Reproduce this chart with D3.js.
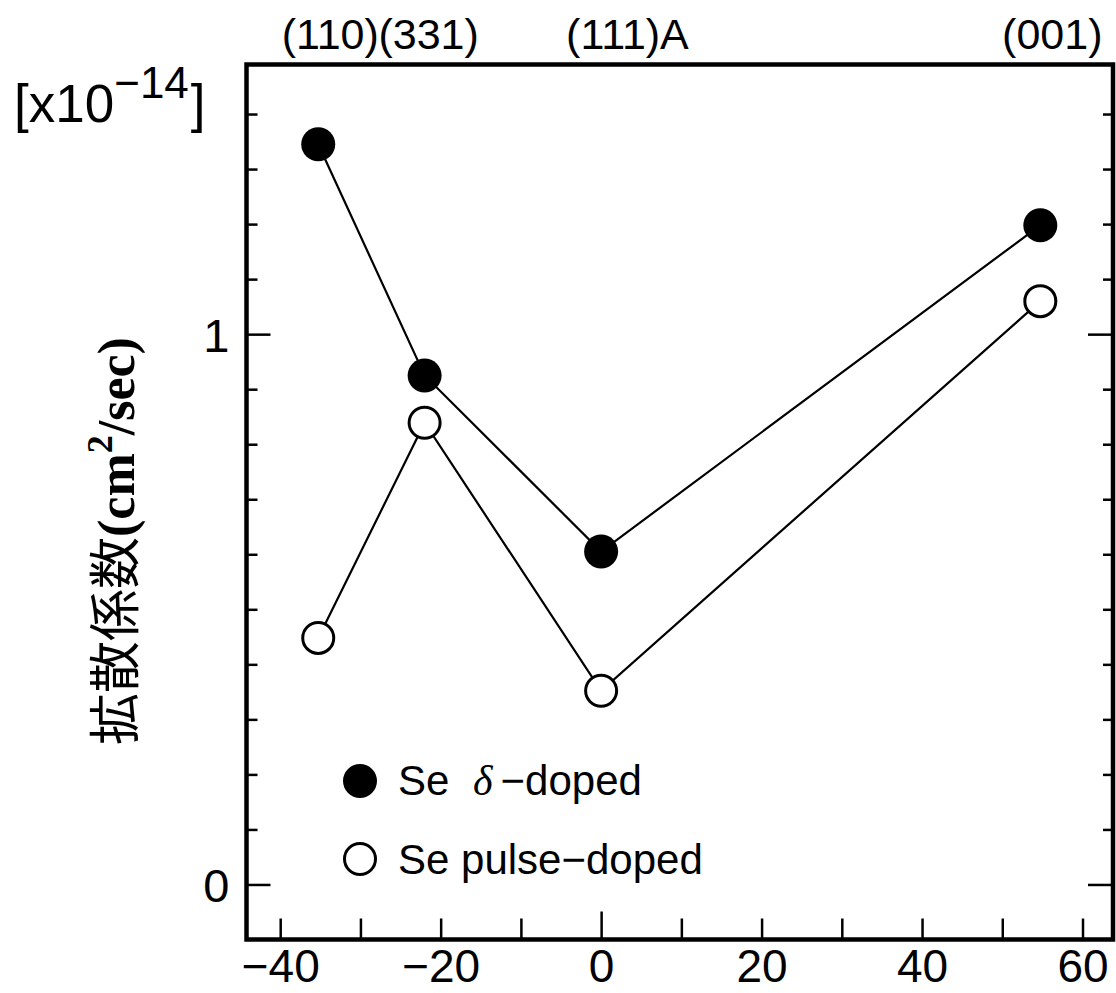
<!DOCTYPE html>
<html>
<head>
<meta charset="utf-8">
<script src="https://cdn.jsdelivr.net/npm/d3@7"></script>
<style>
  html, body { margin: 0; padding: 0; background: #fff; }
  svg { display: block; }
  text { fill: #000; }
</style>
</head>
<body>
<svg id="chart" width="1116" height="993"></svg>
<script>
// Surface orientations and their tilt angle from (111) in degrees
const planes = ["(110)", "(331)", "(111)A", "(001)"];
const angles = [-35.26, -22.0, 0, 54.74];

// Diffusion coefficient, in units of 1e-14 cm^2/sec
const deltaDoped = [1.345, 0.925, 0.605, 1.198];
const pulseDoped = [0.448, 0.839, 0.352, 1.060];

// Axis ticks
const xTicks = [-40, -30, -20, -10, 0, 10, 20, 30, 40, 50, 60];
const xLabelTicks = [-40, -20, 0, 20, 40, 60];
const yTicks = [0, 0.1, 0.2, 0.3, 0.4, 0.5, 0.6, 0.7, 0.8, 0.9, 1.0, 1.1, 1.2, 1.3, 1.4];
const yLabelTicks = [0, 1];

const legendLabels = ["Se δ −doped", "Se pulse−doped"];

const svg = d3.select("#chart");
const sans = "'Liberation Sans', Arial, Helvetica, sans-serif";

const plotL = 246.5, plotR = 1113, plotT = 64.5, plotB = 939.5;
const x = d3.scaleLinear().domain([-44.2, 63.8]).range([plotL, plotR]);
const y = d3.scaleLinear().domain([-0.1, 1.49]).range([plotB, plotT]);

svg.append("rect").attr("width", 1116).attr("height", 993).attr("fill", "#fff");

// Inward ticks on the left and right edges
function tickStyle(g) {
  g.select(".domain").remove();
  g.selectAll("line").attr("stroke", "#000").attr("stroke-width", 2.5);
  g.selectAll("text").attr("font-family", sans).attr("font-size", 47).attr("fill", "#000");
}

svg.append("g").attr("transform", `translate(${plotL},0)`)
  .call(d3.axisLeft(y).tickValues(yTicks.filter(v => !yLabelTicks.includes(v)))
    .tickSizeInner(-11).tickSizeOuter(0).tickFormat(""))
  .call(tickStyle);
svg.append("g").attr("transform", `translate(${plotL},0)`)
  .call(d3.axisLeft(y).tickValues(yLabelTicks)
    .tickSizeInner(-24).tickSizeOuter(0).tickPadding(17).tickFormat(d3.format("d")))
  .call(tickStyle)
  .call(g => g.selectAll("text").attr("dy", "0.36em"));

svg.append("g").attr("transform", `translate(${plotR},0)`)
  .call(d3.axisRight(y).tickValues(yTicks.filter(v => !yLabelTicks.includes(v)))
    .tickSizeInner(-10).tickSizeOuter(0).tickFormat(""))
  .call(tickStyle);
svg.append("g").attr("transform", `translate(${plotR},0)`)
  .call(d3.axisRight(y).tickValues(yLabelTicks)
    .tickSizeInner(-25).tickSizeOuter(0).tickFormat(""))
  .call(tickStyle);

// Bottom axis: ticks every 10, labels every 20, zero tick a bit longer
svg.append("g").attr("transform", `translate(0,${plotB})`)
  .call(d3.axisBottom(x).tickValues(xTicks)
    .tickSizeInner(-21).tickSizeOuter(0).tickPadding(10)
    .tickFormat(d => xLabelTicks.includes(d) ? (d < 0 ? "\u2212" + Math.abs(d) : String(d)) : ""))
  .call(tickStyle)
  .call(g => g.selectAll("text").attr("font-size", 46))
  .call(g => g.selectAll(".tick").filter(d => d === 0).select("line").attr("y2", -28));

// Frame
svg.append("rect")
  .attr("x", plotL).attr("y", plotT)
  .attr("width", plotR - plotL).attr("height", plotB - plotT)
  .attr("fill", "none").attr("stroke", "#000").attr("stroke-width", 4.5);

// Orientation labels above the frame; (110) and (331) sit close, so the
// second one is nudged left to butt against the first
const topLabels = svg.append("g")
  .attr("font-family", sans).attr("font-size", 43);
planes.forEach((p, i) => {
  const m = p.match(/^(\(\d+\))(.*)$/);
  const t = topLabels.append("text").attr("y", 49).text(m[1]);
  const w = t.node().getComputedTextLength();
  const nudge = p === "(331)" ? 4 : 12;
  t.attr("x", x(angles[i]) + nudge - w / 2);
  if (m[2]) t.append("tspan").text(m[2]);
});

// Series lines
const line = d3.line().x(d => x(d[0])).y(d => y(d[1]));
[deltaDoped, pulseDoped].forEach(vals => {
  svg.append("path")
    .datum(angles.map((a, i) => [a, vals[i]]))
    .attr("d", line)
    .attr("fill", "none").attr("stroke", "#000").attr("stroke-width", 2.2);
});

// Markers
svg.append("g").selectAll("circle")
  .data(angles.map((a, i) => [a, pulseDoped[i]]))
  .join("circle")
  .attr("cx", d => x(d[0])).attr("cy", d => y(d[1])).attr("r", 15.5)
  .attr("fill", "#fff").attr("stroke", "#000").attr("stroke-width", 3);
svg.append("g").selectAll("circle")
  .data(angles.map((a, i) => [a, deltaDoped[i]]))
  .join("circle")
  .attr("cx", d => x(d[0])).attr("cy", d => y(d[1])).attr("r", 17)
  .attr("fill", "#000");

// Legend
const legend = svg.append("g");
legend.append("circle").attr("cx", 360).attr("cy", 781).attr("r", 17).attr("fill", "#000");
legend.append("circle").attr("cx", 360).attr("cy", 859).attr("r", 15.5)
  .attr("fill", "#fff").attr("stroke", "#000").attr("stroke-width", 3);
const l1 = legend.append("text").attr("x", 398).attr("y", 795)
  .attr("font-family", sans).attr("font-size", 42);
l1.append("tspan").text("Se ");
l1.append("tspan").attr("font-family", "'Liberation Serif', 'DejaVu Serif', serif")
  .attr("font-style", "italic").attr("dx", 12).text("δ");
l1.append("tspan").attr("dx", 8).text("\u2212doped");
legend.append("text").attr("x", 398).attr("y", 874)
  .attr("font-family", sans).attr("font-size", 42).text(legendLabels[1]);

// Unit multiplier
const mult = svg.append("text").attr("x", 14).attr("y", 122)
  .attr("font-family", sans).attr("font-size", 53);
mult.append("tspan").text("[x10");
mult.append("tspan").attr("font-size", 44).attr("dy", -24).text("\u221214");
mult.append("tspan").attr("dy", 24).attr("dx", 2).text("]");

// Y axis title
const yTitle = svg.append("text")
  .attr("transform", "translate(134,745) rotate(-90)")
  .attr("font-size", 52);
yTitle.append("tspan").attr("font-family", "'Noto Sans CJK JP', sans-serif").text("拡散係数");
yTitle.append("tspan").attr("font-family", "'Liberation Serif', 'Times New Roman', serif")
  .attr("font-weight", "bold").text("(cm");
yTitle.append("tspan").attr("font-family", "'Liberation Serif', 'Times New Roman', serif")
  .attr("font-weight", "bold").attr("font-size", 36).attr("dy", -22).text("2");
yTitle.append("tspan").attr("font-family", "'Liberation Serif', 'Times New Roman', serif")
  .attr("font-weight", "bold").attr("dy", 22).text("/sec)");
</script>
</body>
</html>
